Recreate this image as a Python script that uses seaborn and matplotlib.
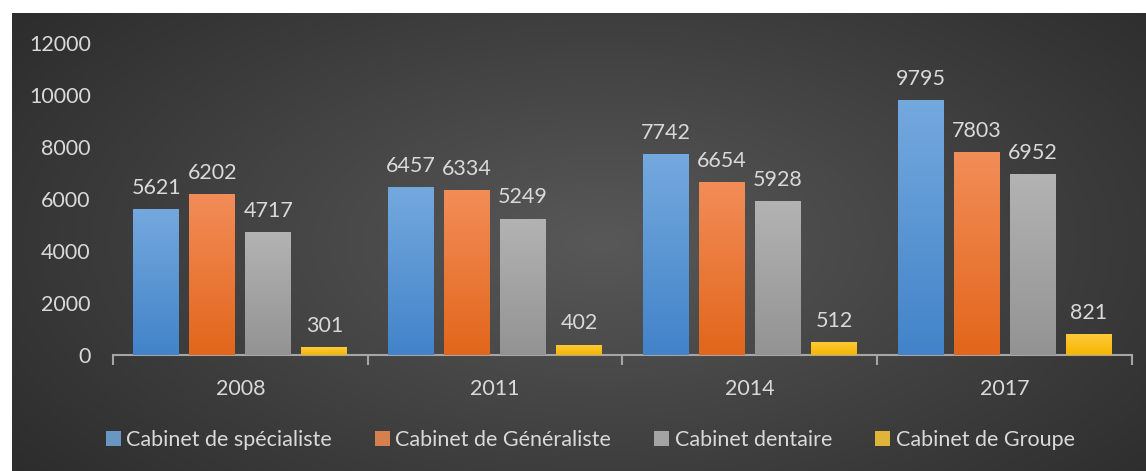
import numpy as np
import pandas as pd
import matplotlib.pyplot as plt
import seaborn as sns
from matplotlib.colors import LinearSegmentedColormap

# data
years = ['2008', '2011', '2014', '2017']
series = ['Cabinet de spécialiste', 'Cabinet de Généraliste', 'Cabinet dentaire', 'Cabinet de Groupe']
specialiste = [5621, 6457, 7742, 9795]
generaliste = [6202, 6334, 6654, 7803]
dentaire = [4717, 5249, 5928, 6952]
groupe = [301, 402, 512, 821]

df = pd.DataFrame({
    'annee': years * 4,
    'type': [s for s in series for _ in years],
    'valeur': specialiste + generaliste + dentaire + groupe,
})

# top / bottom colours of each bar gradient
tops = ['#74a9de', '#f28d58', '#b3b3b3', '#ffca3c']
bottoms = ['#4283c9', '#e2661b', '#939393', '#f4b600']
mids = ['#5b96d3', '#ec7a37', '#a4a4a4', '#fbc11c']

txt = '#d9d9d9'
fs = 15.5
plt.rcParams['font.family'] = ['Lato', 'DejaVu Sans']

fig = plt.figure(figsize=(11.46, 4.71), dpi=100)
fig.patch.set_facecolor('white')

# radial dark background
bg = fig.add_axes([12 / 1146, 0, 1 - 12 / 1146, 1 - 13 / 471])
yy, xx = np.mgrid[0:1:300j, 0:1:700j]
r = np.sqrt(((xx - 0.52) / 0.75) ** 2 + ((yy - 0.5) / 0.95) ** 2)
bg_cmap = LinearSegmentedColormap.from_list('bg', ['#585858', '#262626'])
bg.imshow(np.clip(r, 0, 1), cmap=bg_cmap, aspect='auto', vmin=0, vmax=1)
bg.axis('off')

ax = fig.add_axes([113 / 1146, 1 - 355 / 471, (1132 - 113) / 1146, 312 / 471])
ax.set_facecolor('none')

sns.barplot(data=df, x='annee', y='valeur', hue='type', palette=mids,
            width=0.88, gap=0.18, ax=ax, legend=True, zorder=2)

# gradient fill on every bar
grad = np.linspace(0, 1, 256).reshape(-1, 1)
for i, cont in enumerate(ax.containers):
    cmap = LinearSegmentedColormap.from_list('g%d' % i, [bottoms[i], tops[i]])
    for p in cont.patches:
        x0, w, h = p.get_x(), p.get_width(), p.get_height()
        im = ax.imshow(grad, extent=[x0, x0 + w, 0, h], origin='lower',
                       cmap=cmap, aspect='auto', zorder=3)
        im.set_clip_path(p)
    ax.bar_label(cont, padding=8, color=txt, fontsize=fs)

ax.set_xlim(-0.5, 3.5)
ax.set_ylim(0, 12000)
ax.set_yticks(range(0, 12001, 2000))
ax.set_xlabel('')
ax.set_ylabel('')
for s in ['top', 'right', 'left']:
    ax.spines[s].set_visible(False)
ax.spines['bottom'].set_color('#a6a6a6')
ax.spines['bottom'].set_linewidth(1.5)
ax.tick_params(axis='y', length=0, pad=16, labelcolor=txt, labelsize=fs)
ax.tick_params(axis='x', length=0, pad=17, labelcolor=txt, labelsize=fs)
ax.set_xticks([-0.5, 0.5, 1.5, 2.5, 3.5], minor=True)
ax.tick_params(axis='x', which='minor', length=7, width=1.5, color='#a6a6a6', direction='out')

handles, labels = ax.get_legend_handles_labels()
ax.legend(handles, labels, loc='center', bbox_to_anchor=(0.515, 1 - 440 / 471), bbox_transform=fig.transFigure,
          ncol=4, frameon=False, handlelength=0.7, handleheight=0.7, handletextpad=0.25,
          columnspacing=2.0, labelcolor=txt, fontsize=fs)

fig.savefig('out.png', dpi=100, facecolor=fig.get_facecolor())
